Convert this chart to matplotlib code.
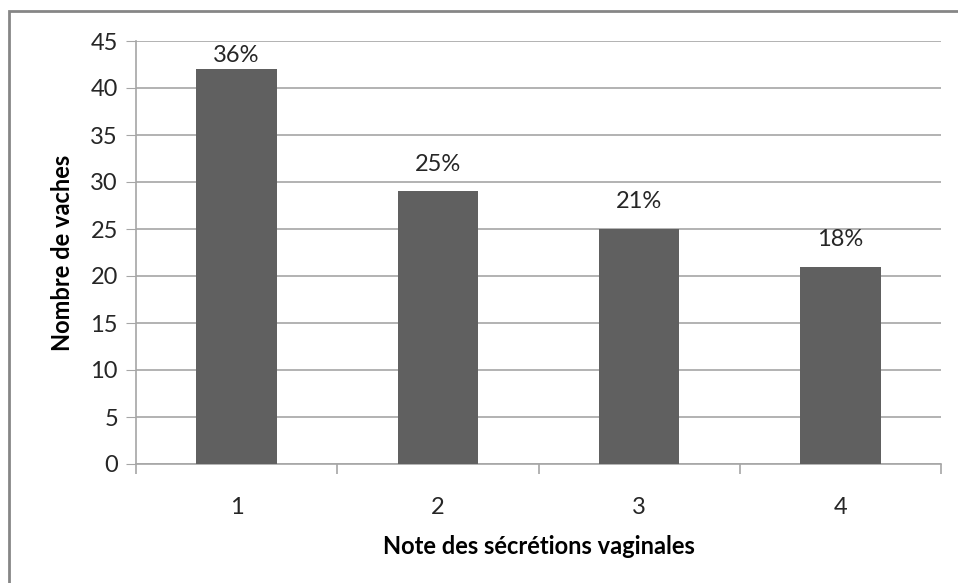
import numpy as np
import matplotlib.pyplot as plt
from matplotlib.patches import Rectangle

# data
notes = ['1', '2', '3', '4']
nb_vaches = [42, 29, 25, 21]
pourcentages = ['36%', '25%', '21%', '18%']

plt.rcParams['font.family'] = ['Lato', 'DejaVu Sans']

fig = plt.figure(figsize=(9.58, 5.83), dpi=100)
ax = fig.add_axes([136 / 958, 1 - 464 / 583, (941 - 136) / 958, (464 - 41) / 583])

# outer chart frame (Excel-like, cut at right and bottom)
fig.patches.append(Rectangle((9 / 958, -0.1), 1.2, 1 - 11 / 583 + 0.1,
                             transform=fig.transFigure, fill=False,
                             edgecolor='#868686', linewidth=2))

x = np.arange(len(notes))
bars = ax.bar(x, nb_vaches, width=0.4, color='#606060', zorder=3)

# labels sit above the bars, pushed back inside the plot area when needed
for b, p in zip(bars, pourcentages):
    y = min(b.get_height() + 2.9, 43.5)
    ax.text(b.get_x() + b.get_width() / 2, y, p,
            ha='center', va='center', fontsize=17, color='#262626')

ax.set_xlim(-0.5, len(notes) - 0.5)
ax.set_ylim(0, 45)
ax.set_yticks(np.arange(0, 46, 5))
ax.set_xticks(x)
ax.set_xticklabels(notes)
ax.set_xticks(np.arange(-0.5, len(notes), 1), minor=True)

ax.yaxis.grid(True, color='#a6a6a6', linewidth=1.2, zorder=0)
ax.set_axisbelow(True)
for s in ['top', 'right']:
    ax.spines[s].set_visible(False)
for s in ['left', 'bottom']:
    ax.spines[s].set_color('#a6a6a6')
    ax.spines[s].set_linewidth(1.2)

ax.tick_params(axis='y', labelsize=17, length=7, color='#a6a6a6', pad=6, labelcolor='#262626')
ax.tick_params(axis='x', which='major', length=0, labelsize=17, pad=24, labelcolor='#262626')
ax.tick_params(axis='x', which='minor', length=7, color='#a6a6a6', width=1.2)

ax.set_xlabel('Note des sécrétions vaginales', fontsize=17, fontweight='bold', labelpad=12)
ax.set_ylabel('Nombre de vaches', fontsize=17, fontweight='bold', labelpad=12)

fig.savefig('out.png', dpi=100)
